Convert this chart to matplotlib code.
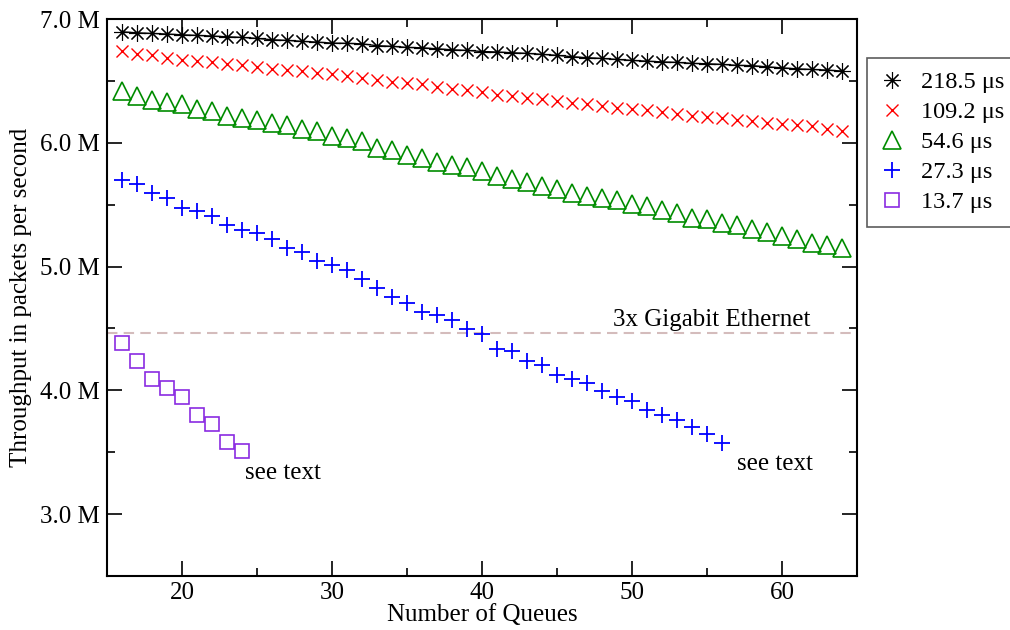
import numpy as np
import matplotlib
matplotlib.use('Agg')
import matplotlib.pyplot as plt
from matplotlib.ticker import FuncFormatter, MultipleLocator

plt.rcParams['font.family'] = ['Liberation Serif', 'DejaVu Serif']
plt.rcParams['font.size'] = 18

# number of queues
queues = list(range(16, 65))

# throughput in Mpps, one list per interrupt rate
t_218 = [6.897, 6.889, 6.884, 6.879, 6.873, 6.868, 6.863, 6.857, 6.852, 6.844,
         6.833, 6.828, 6.820, 6.814, 6.806, 6.804, 6.800, 6.785, 6.780, 6.771,
         6.768, 6.760, 6.752, 6.747, 6.738, 6.734, 6.728, 6.723, 6.715, 6.707,
         6.696, 6.688, 6.682, 6.674, 6.666, 6.660, 6.654, 6.650, 6.642, 6.639,
         6.634, 6.626, 6.624, 6.614, 6.606, 6.598, 6.593, 6.588, 6.580]
t_109 = [6.740, 6.720, 6.707, 6.687, 6.669, 6.660, 6.652, 6.639, 6.628, 6.614,
         6.598, 6.588, 6.580, 6.566, 6.553, 6.539, 6.525, 6.504, 6.490, 6.485,
         6.472, 6.450, 6.439, 6.426, 6.410, 6.390, 6.378, 6.364, 6.351, 6.337,
         6.323, 6.315, 6.297, 6.283, 6.276, 6.262, 6.250, 6.234, 6.216, 6.208,
         6.197, 6.184, 6.175, 6.162, 6.149, 6.141, 6.135, 6.113, 6.095]
t_54 = [6.418, 6.378, 6.343, 6.331, 6.315, 6.270, 6.256, 6.216, 6.197, 6.181,
        6.162, 6.143, 6.108, 6.095, 6.054, 6.036, 6.014, 5.955, 5.941, 5.901,
        5.879, 5.846, 5.825, 5.806, 5.771, 5.731, 5.704, 5.684, 5.650, 5.631,
        5.591, 5.567, 5.555, 5.542, 5.502, 5.488, 5.460, 5.434, 5.393, 5.381,
        5.353, 5.340, 5.300, 5.281, 5.246, 5.227, 5.192, 5.173, 5.151]
q_27 = list(range(16, 57))
t_27 = [5.696, 5.669, 5.591, 5.555, 5.475, 5.448, 5.407, 5.340, 5.299, 5.272,
        5.227, 5.151, 5.119, 5.049, 5.009, 4.976, 4.901, 4.828, 4.753, 4.707,
        4.634, 4.608, 4.565, 4.492, 4.456, 4.338, 4.316, 4.241, 4.208, 4.122,
        4.092, 4.060, 3.993, 3.944, 3.912, 3.844, 3.799, 3.764, 3.702, 3.648,
        3.575]
q_13 = list(range(16, 25))
t_13 = [4.386, 4.241, 4.092, 4.019, 3.947, 3.799, 3.728, 3.580, 3.508]

gige3 = 4.464

fig = plt.figure(figsize=(10.1, 6.3), dpi=100)
ax = fig.add_axes([0.106, 0.0857, 0.7425, 0.884])

ax.axhline(gige3, color='#d4bcbc', lw=1.5, ls=(0, (5, 3)), zorder=1)
ax.text(61.9, 4.52, '3x Gigabit Ethernet', ha='right', va='baseline')

ax.plot(queues, t_218, color='black', lw=1.0, zorder=2)
ax.plot(queues, t_218, ls='none', marker=(8, 2, 0), ms=12, mew=0.8,
        color='black', label='218.5 μs')
ax.plot(queues, t_109, ls='none', marker='x', ms=9, mew=1.0,
        color='#ff0000', label='109.2 μs')
ax.plot(queues, t_54, ls='none', marker='^', ms=12.5, mew=1.2,
        mfc='none', color='#008c00', label='54.6 μs')
ax.plot(q_27, t_27, ls='none', marker='+', ms=12, mew=1.3,
        color='#0000ff', label='27.3 μs')
ax.plot(q_13, t_13, ls='none', marker='s', ms=10, mew=1.2,
        mfc='none', color='#8a2be2', label='13.7 μs')

ax.text(24.2, 3.28, 'see text', ha='left', va='baseline')
ax.text(57.0, 3.36, 'see text', ha='left', va='baseline')

ax.set_xlim(15, 65)
ax.set_ylim(2.5, 7.0)
ax.xaxis.set_major_locator(MultipleLocator(10))
ax.xaxis.set_minor_locator(MultipleLocator(5))
ax.yaxis.set_major_locator(MultipleLocator(1.0))
ax.yaxis.set_minor_locator(MultipleLocator(0.5))
ax.yaxis.set_major_formatter(FuncFormatter(lambda v, p: '%.1f M' % v))
ax.tick_params(which='both', direction='in', top=True, right=True, width=1.2)
ax.tick_params(which='major', length=11)
ax.tick_params(which='minor', length=6)
ax.tick_params(axis='y', which='major', pad=5)
ax.tick_params(axis='x', which='major', pad=4)
for s in ax.spines.values():
    s.set_linewidth(1.5)

ax.set_xlabel('Number of Queues', labelpad=0)
ax.set_ylabel('Throughput in packets per second', labelpad=6)

fig.legend(loc='upper left', bbox_to_anchor=(0.858, 0.908), frameon=True,
           fancybox=False, edgecolor='#333333', handlelength=1.0,
           handletextpad=0.7, borderpad=0.55, labelspacing=0.33,
           borderaxespad=0, prop={'size': 17.5}).get_frame().set_linewidth(1.2)

fig.savefig('out.png', dpi=100)
